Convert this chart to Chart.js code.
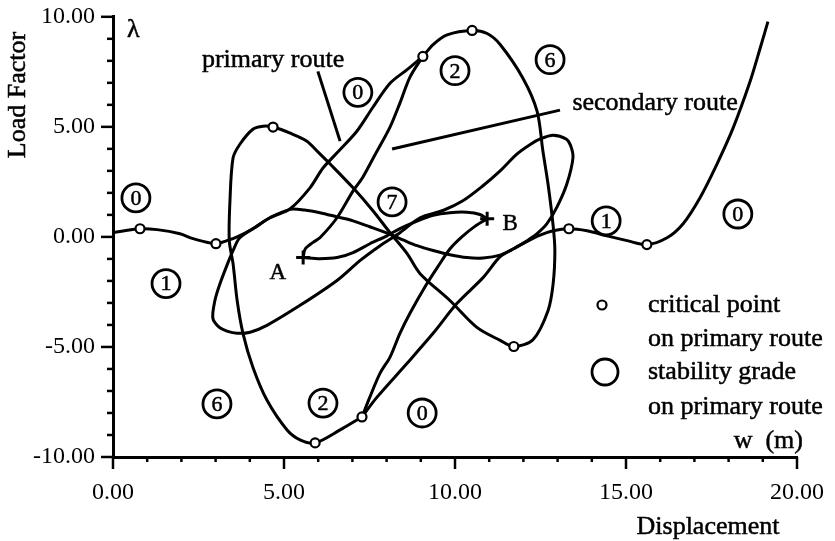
<!DOCTYPE html>
<html>
<head>
<meta charset="utf-8">
<script src="https://cdn.jsdelivr.net/npm/chart.js@4.4.0/dist/chart.umd.min.js"></script>
<style>
  html, body { margin: 0; padding: 0; background: #fff; }
  canvas { display: block; }
</style>
</head>
<body>
<canvas id="chart" width="835" height="541"></canvas>
<script>
// Equilibrium paths: displacement w (m) against load factor λ, as [w, λ] pairs.

// Route that runs from the left tail, through the centre, out to the right tail.
const tailRoute = [
  [0.00, 0.19], [0.79, 0.37], [1.29, 0.33], [1.96, 0.14], [2.34, -0.08], [3.01, -0.31],
  [3.33, -0.17], [3.63, 0.00], [4.09, 0.37], [4.59, 0.87], [5.18, 1.25], [5.60, 1.22],
  [6.05, 1.10], [6.55, 0.91], [7.02, 0.73], [7.51, 0.46], [8.10, 0.12], [8.50, -0.15],
  [8.89, -0.40], [9.36, -0.62], [9.85, -0.81], [10.35, -0.94], [10.82, -0.96], [11.32, -0.83],
  [11.70, -0.55], [12.11, -0.20], [12.49, 0.08], [12.87, 0.28], [13.33, 0.37], [13.86, 0.28],
  [14.44, 0.05], [15.03, -0.17], [15.61, -0.35], [16.20, -0.04], [16.67, 0.60], [17.16, 1.77],
  [17.66, 3.31], [18.13, 4.94], [18.63, 7.07], [18.92, 8.56], [19.15, 9.78]
];

// Figure-eight branch: upper critical point, left loop, centre, right loop, lower critical point.
const loopBranch = [
  [9.06, 8.20], [8.60, 7.60], [8.10, 6.98], [7.60, 5.89], [7.13, 4.80], [6.60, 3.90],
  [6.14, 3.13], [5.76, 2.23], [5.18, 1.28], [4.59, 0.87], [4.09, 0.37], [3.70, -0.05],
  [3.51, -0.62], [3.38, -1.10], [3.13, -2.12], [2.98, -2.89], [2.92, -3.70], [3.10, -4.10],
  [3.33, -4.28], [3.63, -4.38], [4.01, -4.33], [4.50, -4.02], [5.47, -3.11], [6.55, -1.98],
  [7.22, -1.08], [7.81, -0.40], [8.39, 0.19], [8.98, 0.87], [9.65, 1.20], [10.23, 1.64],
  [10.80, 2.30], [11.32, 3.00], [11.80, 3.75], [12.20, 4.20], [12.49, 4.45], [12.87, 4.62],
  [13.25, 4.45], [13.38, 4.15], [13.45, 3.60], [13.27, 2.40], [12.98, 1.35], [12.69, 0.60],
  [12.40, 0.15], [12.11, -0.17], [11.70, -0.55], [11.32, -0.90], [10.82, -1.85], [10.06, -3.02],
  [9.36, -4.38], [8.60, -5.74], [7.72, -7.28], [7.28, -8.18]
];

// Tall closed branch: bottom, left side, peak, diagonal, right side, top.
const tallBranch = [
  [7.28, -8.18], [6.64, -8.77], [5.91, -9.36], [5.47, -9.22], [5.09, -8.77], [4.50, -7.41],
  [4.09, -5.92], [3.80, -4.38], [3.63, -2.89], [3.51, -1.21], [3.40, -0.17], [3.42, 1.64],
  [3.51, 3.58], [3.71, 4.21], [4.09, 4.89], [4.39, 5.03], [4.68, 4.99], [5.18, 4.71],
  [5.67, 4.35], [6.00, 3.85], [6.35, 3.31], [7.02, 2.23], [7.60, 1.19], [8.10, 0.19],
  [8.60, -0.76], [8.98, -1.67], [9.85, -2.89], [10.64, -4.11], [11.32, -4.70], [11.72, -4.98],
  [12.28, -4.67], [12.72, -3.35], [12.87, -2.12], [12.92, -0.62], [12.87, 0.50], [12.72, 2.40],
  [12.57, 3.90], [12.40, 5.71], [11.99, 7.20], [11.32, 8.74], [10.94, 9.24], [10.50, 9.38],
  [9.77, 9.18], [9.36, 8.74], [9.06, 8.20]
];

// Secondary routes starting at the end points A and B.
const routeFromA = [
  [5.56, -0.94], [5.62, -0.55], [5.85, -0.25], [6.05, -0.04], [6.55, 0.87], [7.02, 2.09],
  [7.30, 2.70], [7.65, 3.70], [8.10, 4.99], [8.39, 6.08], [8.68, 7.25], [9.06, 8.20]
];
const routeFromB = [
  [10.94, 0.82], [10.60, 0.50], [10.20, 0.00], [9.85, -0.55], [9.50, -1.35], [9.15, -2.20],
  [8.68, -3.48], [8.39, -4.38], [8.10, -5.46], [7.81, -6.19], [7.51, -7.28], [7.28, -8.18]
];
const routeAB = [
  [5.56, -0.94], [6.05, -0.99], [6.55, -0.94], [7.02, -0.71], [7.51, -0.31], [8.01, 0.05],
  [8.39, 0.38], [8.89, 0.72], [9.36, 0.98], [9.85, 1.10], [10.35, 1.12], [10.73, 1.02],
  [10.94, 0.82]
];

// Critical points on the primary route.
const criticalPoints = [
  [0.79, 0.37], [3.01, -0.31], [4.68, 4.99], [5.91, -9.36], [7.28, -8.18],
  [9.06, 8.20], [10.50, 9.38], [11.72, -4.98], [13.33, 0.37], [15.61, -0.35]
];

// Stability grades and where they are marked.
const gradeLabels = ['0', '1', '0', '7', '2', '6', '1', '0', '6', '2', '0'];
const gradePositions = [
  [0.67, 1.77], [1.55, -2.12], [7.16, 6.57], [8.16, 1.59], [10.00, 7.55], [12.78, 8.05],
  [14.42, 0.73], [18.27, 1.04], [3.04, -7.59], [6.14, -7.55], [9.04, -8.00]
];

// End points A and B.
const endLabels = ['A', 'B'];
const endPoints = [[5.56, -0.94], [10.94, 0.82]];

// Axis ticks.
const xTickValues = [0, 5, 10, 15, 20];
const xTickLabels = ['0.00', '5.00', '10.00', '15.00', '20.00'];
const yTickValues = [-10, -5, 0, 5, 10];
const yTickLabels = ['-10.00', '-5.00', '0.00', '5.00', '10.00'];

const SERIF = '"Liberation Serif", "DejaVu Serif", serif';
const toXY = arr => arr.map(([x, y]) => ({ x, y }));

function curve(points) {
  return {
    data: toXY(points),
    showLine: true,
    borderColor: '#000',
    borderWidth: 3,
    pointRadius: 0,
    tension: 0.3,
    fill: false,
    order: 3
  };
}

// Filled text with a hairline outline, for the heavier print look.
function heavyText(ctx, text, x, y) {
  ctx.fillText(text, x, y);
  ctx.strokeText(text, x, y);
}

// Tick marks, annotations and the key, drawn through the chart's scales.
const annotate = {
  id: 'annotate',
  afterDatasetsDraw(chart) {
    const { ctx, scales: { x, y } } = chart;
    const px = v => x.getPixelForValue(v);
    const py = v => y.getPixelForValue(v);
    ctx.save();
    ctx.strokeStyle = '#000';
    ctx.fillStyle = '#000';
    ctx.lineCap = 'butt';

    // tick marks: long at labelled values, short at every unit
    ctx.lineWidth = 2.5;
    const x0 = px(0), yB = py(-10);
    for (let v = 0; v <= 20; v++) {
      const len = v % 5 === 0 ? 12 : 5;
      ctx.beginPath(); ctx.moveTo(px(v), yB); ctx.lineTo(px(v), yB + len); ctx.stroke();
    }
    for (let v = -10; v <= 10; v++) {
      const len = v % 5 === 0 ? 12 : 6;
      ctx.beginPath(); ctx.moveTo(x0, py(v)); ctx.lineTo(x0 - len, py(v)); ctx.stroke();
    }

    ctx.lineWidth = 0.5;
    // grade numbers inside their circles
    ctx.font = '22px ' + SERIF;
    ctx.textAlign = 'center';
    ctx.textBaseline = 'middle';
    gradePositions.forEach(([gx, gy], i) => {
      heavyText(ctx, gradeLabels[i], px(gx), py(gy) + 1);
    });

    // end point labels
    ctx.font = '23px ' + SERIF;
    heavyText(ctx, endLabels[0], px(4.82), py(-1.66));
    heavyText(ctx, endLabels[1], px(11.61), py(0.60));

    // route labels
    ctx.font = '26px ' + SERIF;
    heavyText(ctx, 'primary route', px(4.68), py(8.02));
    heavyText(ctx, 'secondary route', px(15.85), py(6.07));

    // axis symbols and titles
    ctx.textAlign = 'left';
    heavyText(ctx, 'λ', 127, 30);
    ctx.textAlign = 'right';
    heavyText(ctx, 'w  (m)', 803, 441);
    ctx.textAlign = 'center';
    heavyText(ctx, 'Displacement', 708, 527);
    ctx.save();
    ctx.translate(18, 95);
    ctx.rotate(-Math.PI / 2);
    heavyText(ctx, 'Load Factor', 0, 0);
    ctx.restore();

    // key text
    ctx.textAlign = 'left';
    heavyText(ctx, 'critical point', 648, 305);
    heavyText(ctx, 'on primary route', 648, 339);
    heavyText(ctx, 'stability grade', 648, 372);
    heavyText(ctx, 'on primary route', 648, 407);

    // leader lines to the route labels
    ctx.lineWidth = 3;
    ctx.beginPath(); ctx.moveTo(px(5.99), py(7.52)); ctx.lineTo(px(6.64), py(4.35)); ctx.stroke();
    ctx.beginPath(); ctx.moveTo(px(13.07), py(5.76)); ctx.lineTo(px(8.16), py(3.99)); ctx.stroke();

    // key symbols
    ctx.lineWidth = 2.2;
    ctx.fillStyle = '#fff';
    ctx.beginPath(); ctx.arc(602, 305, 4.5, 0, Math.PI * 2); ctx.fill(); ctx.stroke();
    ctx.lineWidth = 2.8;
    ctx.beginPath(); ctx.arc(605, 372, 13, 0, Math.PI * 2); ctx.fill(); ctx.stroke();
    ctx.restore();
  }
};

new Chart(document.getElementById('chart'), {
  type: 'scatter',
  data: {
    datasets: [
      curve(tailRoute),
      curve(loopBranch),
      curve(tallBranch),
      curve(routeFromA),
      curve(routeFromB),
      curve(routeAB),
      {
        data: toXY(criticalPoints),
        pointRadius: 4.5,
        pointBackgroundColor: '#fff',
        pointBorderColor: '#000',
        pointBorderWidth: 2.2,
        order: 1
      },
      {
        data: toXY(gradePositions),
        pointRadius: 14,
        pointBackgroundColor: '#fff',
        pointBorderColor: '#000',
        pointBorderWidth: 2.8,
        order: 1
      },
      {
        data: toXY(endPoints),
        pointStyle: 'cross',
        pointRadius: 7,
        pointBorderColor: '#000',
        pointBorderWidth: 3,
        order: 1
      }
    ]
  },
  options: {
    responsive: false,
    animation: false,
    events: [],
    layout: { padding: { left: 0, top: 15, right: 38, bottom: 0 } },
    plugins: { legend: { display: false }, tooltip: { enabled: false } },
    scales: {
      x: {
        type: 'linear',
        min: 0, max: 20,
        afterFit: s => { s.height = 84; },
        afterBuildTicks: s => { s.ticks = xTickValues.map(v => ({ value: v })); },
        grid: { display: false, drawTicks: true, tickLength: 21 },
        border: { display: true, color: '#000', width: 3 },
        ticks: {
          padding: 0,
          maxRotation: 0,
          autoSkip: false,
          color: '#000',
          font: { family: SERIF, size: 24 },
          callback: (v, i) => xTickLabels[i]
        }
      },
      y: {
        type: 'linear',
        min: -10, max: 10,
        afterFit: s => { s.width = 113; },
        afterBuildTicks: s => { s.ticks = yTickValues.map(v => ({ value: v })); },
        grid: { display: false, drawTicks: true, tickLength: 18 },
        border: { display: true, color: '#000', width: 3 },
        ticks: {
          padding: 0,
          autoSkip: false,
          color: '#000',
          font: { family: SERIF, size: 24 },
          callback: (v, i) => yTickLabels[i]
        }
      }
    }
  },
  plugins: [annotate]
});
</script>
</body>
</html>
